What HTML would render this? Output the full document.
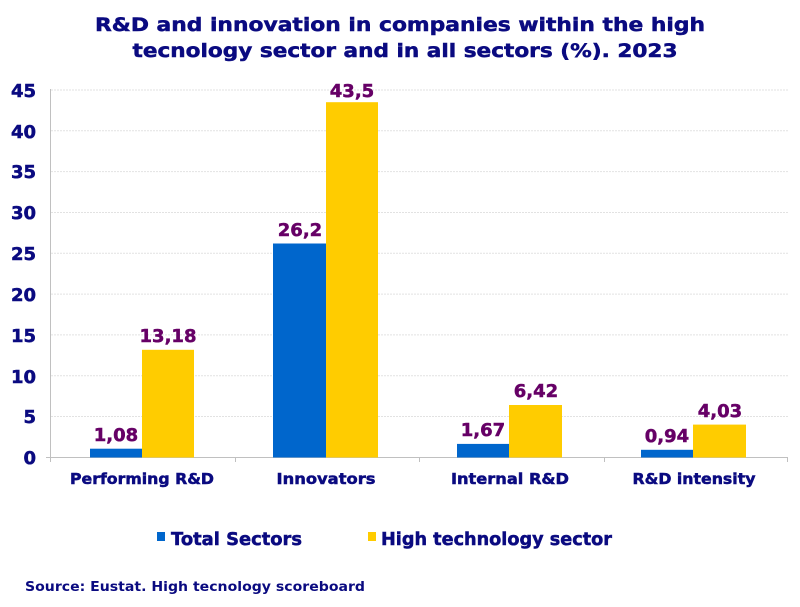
<!DOCTYPE html>
<html><head><meta charset="utf-8"><style>
html,body{margin:0;padding:0;background:#fff;}
svg{display:block;font-family:"DejaVu Sans","Liberation Sans",sans-serif;font-weight:bold;}
.h text{stroke-width:0.5;}
</style></head><body>
<svg width="800" height="607" viewBox="0 0 800 607" xmlns="http://www.w3.org/2000/svg">
<g class="h">
<text x="400" y="31" text-anchor="middle" font-size="19" fill="#0a0a80" stroke="#0a0a80" textLength="610" lengthAdjust="spacingAndGlyphs">R&amp;D and innovation in companies within the high</text>
<text x="405" y="57" text-anchor="middle" font-size="19" fill="#0a0a80" stroke="#0a0a80" textLength="545" lengthAdjust="spacingAndGlyphs">tecnology sector and in all sectors (%). 2023</text>
</g>
<g stroke="#e2e2e2" stroke-width="1" stroke-dasharray="2,1">
<line x1="51" x2="788" y1="90" y2="90"/><line x1="51" x2="788" y1="130.8" y2="130.8"/><line x1="51" x2="788" y1="171.6" y2="171.6"/><line x1="51" x2="788" y1="212.5" y2="212.5"/><line x1="51" x2="788" y1="253.3" y2="253.3"/><line x1="51" x2="788" y1="294.1" y2="294.1"/><line x1="51" x2="788" y1="334.9" y2="334.9"/><line x1="51" x2="788" y1="375.7" y2="375.7"/><line x1="51" x2="788" y1="416.5" y2="416.5"/>
</g>
<g stroke="#c0c0c0" stroke-width="1">
<line x1="50.5" x2="50.5" y1="89" y2="462"/>
<line x1="46" x2="788" y1="457.5" y2="457.5"/>
<line x1="235.5" x2="235.5" y1="457" y2="462"/><line x1="419.5" x2="419.5" y1="457" y2="462"/><line x1="604.5" x2="604.5" y1="457" y2="462"/><line x1="787.5" x2="787.5" y1="457" y2="462"/>
</g>
<g class="h" font-size="18" fill="#0a0a80" stroke="#0a0a80" text-anchor="end">
<text x="36" y="97">45</text><text x="36" y="138">40</text><text x="36" y="178">35</text><text x="36" y="219">30</text><text x="36" y="260">25</text><text x="36" y="301">20</text><text x="36" y="342">15</text><text x="36" y="383">10</text><text x="36" y="423">5</text><text x="36" y="464">0</text>
</g>
<g fill="#0066cc">
<rect x="90" y="448.7" width="52" height="8.8"/>
<rect x="273" y="243.5" width="53" height="214"/>
<rect x="457" y="443.9" width="52" height="13.6"/>
<rect x="641" y="449.8" width="52" height="7.7"/>
</g>
<g fill="#ffcc00">
<rect x="142" y="349.8" width="52" height="107.7"/>
<rect x="326" y="102.2" width="52" height="355.3"/>
<rect x="509" y="405" width="53" height="52.5"/>
<rect x="693" y="424.6" width="53" height="32.9"/>
</g>
<g class="h" font-size="18" fill="#660066" stroke="#660066" text-anchor="middle">
<text x="116" y="441">1,08</text><text x="168" y="342">13,18</text>
<text x="300" y="236">26,2</text><text x="352" y="97">43,5</text>
<text x="483" y="436">1,67</text><text x="536" y="397">6,42</text>
<text x="667" y="442">0,94</text><text x="720" y="417">4,03</text>
</g>
<g class="h" font-size="15" fill="#0a0a80" stroke="#0a0a80" text-anchor="middle">
<text x="142" y="484" textLength="144" lengthAdjust="spacingAndGlyphs">Performing R&amp;D</text>
<text x="326" y="484" textLength="99" lengthAdjust="spacingAndGlyphs">Innovators</text>
<text x="510" y="484" textLength="118" lengthAdjust="spacingAndGlyphs">Internal R&amp;D</text>
<text x="694" y="484" textLength="123" lengthAdjust="spacingAndGlyphs">R&amp;D intensity</text>
</g>
<rect x="157" y="532" width="8" height="9" fill="#0066cc"/>
<rect x="368" y="532" width="8" height="9" fill="#ffcc00"/>
<g class="h" font-size="18" fill="#0a0a80" stroke="#0a0a80">
<text x="171" y="545" textLength="131" lengthAdjust="spacingAndGlyphs">Total Sectors</text>
<text x="381" y="545" textLength="231" lengthAdjust="spacingAndGlyphs">High technology sector</text>
</g>
<text x="25" y="591" font-size="13" fill="#0a0a80" textLength="340" lengthAdjust="spacingAndGlyphs">Source: Eustat. High tecnology scoreboard</text>
</svg>
</body></html>
